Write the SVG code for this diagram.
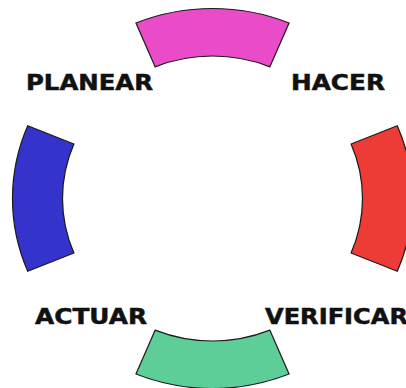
<svg xmlns="http://www.w3.org/2000/svg" width="406" height="388" viewBox="0 0 406 388">
  <style>
    .seg { stroke: #1a1a1a; stroke-width: 1.2; stroke-linejoin: miter; }
    .lbl { font-family: "DejaVu Sans", "Liberation Sans", sans-serif; font-weight: bold; font-size: 21px; fill: #111; stroke: #111; stroke-width: 0.5; }
  </style>
  <rect width="406" height="388" fill="#ffffff"/>
  <g id="planear-seg">
    <path class="seg" fill="#E94BC9" d="M135.96,22.96 A200,190 0 0 1 289.04,22.96 L269.90,66.85 A150,142.5 0 0 0 155.10,66.85 Z"/>
  </g>
  <g id="hacer-seg">
    <path class="seg" fill="#EE3B36" d="M397.28,125.79 A200,190 0 0 1 397.28,271.21 L351.08,253.03 A150,142.5 0 0 0 351.08,143.97 Z"/>
  </g>
  <g id="verificar-seg">
    <path class="seg" fill="#5DCE98" d="M289.04,374.04 A200,190 0 0 1 135.96,374.04 L155.10,330.15 A150,142.5 0 0 0 269.90,330.15 Z"/>
  </g>
  <g id="actuar-seg">
    <path class="seg" fill="#3434CC" d="M27.72,271.21 A200,190 0 0 1 27.72,125.79 L73.92,143.97 A150,142.5 0 0 0 73.92,253.03 Z"/>
  </g>
  <g id="planear">
    <text class="lbl" x="26" y="89.5" textLength="127" lengthAdjust="spacingAndGlyphs">PLANEAR</text>
  </g>
  <g id="hacer">
    <text class="lbl" x="291" y="89.5" textLength="94" lengthAdjust="spacingAndGlyphs">HACER</text>
  </g>
  <g id="actuar">
    <text class="lbl" x="35" y="323.5" textLength="112" lengthAdjust="spacingAndGlyphs">ACTUAR</text>
  </g>
  <g id="verificar">
    <text class="lbl" x="265" y="323.5" textLength="143" lengthAdjust="spacingAndGlyphs">VERIFICAR</text>
  </g>
  <g id="connectors"></g>
</svg>
